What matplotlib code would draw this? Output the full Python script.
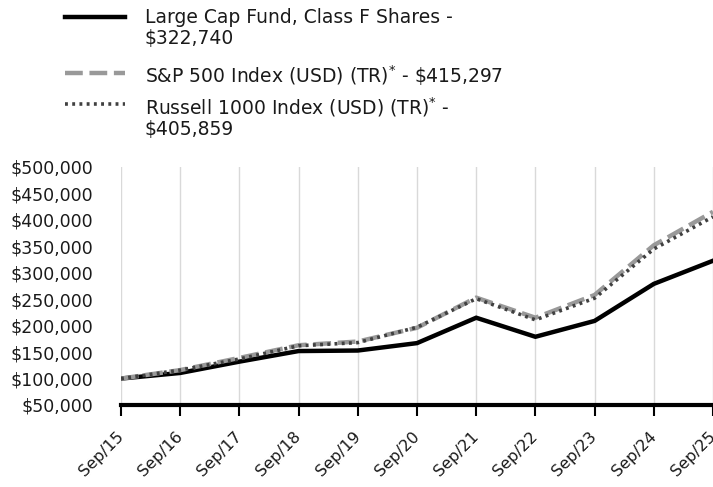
import matplotlib.pyplot as plt
from matplotlib.lines import Line2D
from matplotlib.ticker import FuncFormatter

years = ["Sep/15", "Sep/16", "Sep/17", "Sep/18", "Sep/19", "Sep/20",
         "Sep/21", "Sep/22", "Sep/23", "Sep/24", "Sep/25"]
fund = [100000, 110600, 132000, 152000, 153000, 167000, 215000, 179000, 209000, 279000, 322740]
sp500 = [100000, 116000, 139000, 163000, 170000, 196000, 253000, 215000, 258000, 352000, 415297]
russell = [100000, 116000, 137000, 162000, 168000, 197000, 251000, 211000, 252000, 345000, 405859]

labels = [
    "Large Cap Fund, Class F Shares -\n\\$322,740",
    "S&P 500 Index (USD) (TR)$^{*}$ - \\$415,297",
    "Russell 1000 Index (USD) (TR)$^{*}$ -\n\\$405,859",
]

W, H = 713, 487
plt.rcParams["font.family"] = ["DejaVu Sans"]
fig = plt.figure(figsize=(W / 100, H / 100), dpi=100)
ax = fig.add_axes([121 / W, 1 - 405 / H, (713 - 121) / W, (405 - 167) / H])

x = list(range(len(years)))
ax.plot(x, fund, color="black", lw=3.2, solid_joinstyle="miter", zorder=3)
ax.plot(x, sp500, color="#999999", lw=3.2, dashes=(4, 1.5), zorder=4)
ax.plot(x, russell, color="#404040", lw=2.6, dashes=(0.8, 1.2), zorder=5)

ax.set_xlim(0, len(years) - 1)
ax.set_ylim(50000, 500000)
ax.set_yticks(range(50000, 500001, 50000))
ax.yaxis.set_major_formatter(FuncFormatter(lambda v, p: f"${v:,.0f}"))
ax.tick_params(axis="y", length=0, pad=20, labelsize=12.5, labelcolor="#1a1a1a")

ax.set_xticks(x)
ax.set_xticklabels(years, rotation=45, ha="right", va="center", rotation_mode="anchor")
ax.tick_params(axis="x", length=8, width=1.5, color="black", pad=13, labelsize=11.5,
               labelcolor="#1a1a1a")

ax.grid(axis="x", color="#d9d9d9", lw=1)
ax.set_axisbelow(True)
for s in ["left", "right", "top"]:
    ax.spines[s].set_visible(False)
ax.spines["bottom"].set_linewidth(3)
ax.spines["bottom"].set_color("black")
ax.spines["bottom"].set_zorder(6)

# legend drawn by hand so the handles align with the first text line
handles = [
    dict(color="black", lw=3.2),
    dict(color="#999999", lw=3.2, dashes=(4, 1.5)),
    dict(color="#404040", lw=2.6, dashes=(0.8, 1.2)),
]
rows = [17, 73, 104]
for lab, h, yy in zip(labels, handles, rows):
    fy = 1 - yy / H
    fig.add_artist(Line2D([65 / W, 125 / W], [fy, fy], transform=fig.transFigure, **h))
    fig.text(145 / W, 1 - (yy - 9) / H, lab, ha="left", va="top", fontsize=13.5,
             color="#1a1a1a", linespacing=1.12)

fig.savefig("out.png", dpi=100)
